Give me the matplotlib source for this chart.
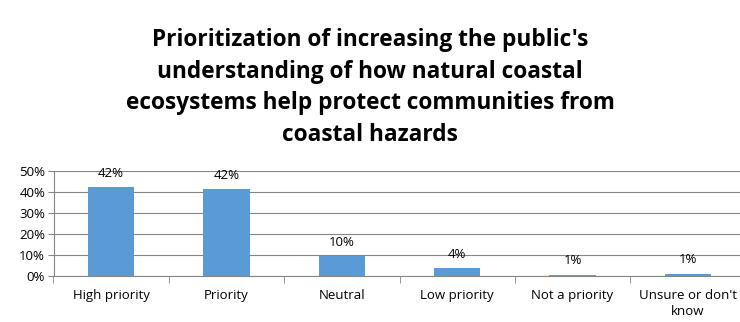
import matplotlib.pyplot as plt
import numpy as np

categories = ["High priority", "Priority", "Neutral", "Low priority", "Not a priority", "Unsure or don't\nknow"]
values = [42.2, 41.5, 9.7, 3.8, 0.8, 1.3]
labels = ["42%", "42%", "10%", "4%", "1%", "1%"]
title = ("Prioritization of increasing the public's\nunderstanding of how natural coastal\n"
         "ecosystems help protect communities from\ncoastal hazards")

plt.rcParams['font.family'] = ['Open Sans', 'DejaVu Sans']

fig = plt.figure(figsize=(7.4, 3.22), dpi=100)
ax = fig.add_axes([53.5 / 740, 1 - 276.3 / 322, 692 / 740, 105.3 / 322])

x = np.arange(len(categories))
ax.bar(x, values, width=0.4, color='#5B9BD5', zorder=3)
for xi, v, t in zip(x, values, labels):
    ax.text(xi, v + 3.5, t, ha='center', va='bottom', fontsize=9.5)

ax.set_xlim(-0.5, len(categories) - 0.5)
ax.set_ylim(0, 50)
ax.set_yticks([0, 10, 20, 30, 40, 50])
ax.set_yticklabels([f"{v}%" for v in range(0, 60, 10)], fontsize=9.5)
ax.set_xticks(x)
ax.set_xticklabels(categories, fontsize=9.5, linespacing=1.3)
ax.set_xticks(np.arange(len(categories) + 1) - 0.5, minor=True)
ax.tick_params(axis='x', which='major', length=0, pad=9)
ax.tick_params(axis='x', which='minor', length=5, color='#868686')
ax.tick_params(axis='y', length=4, color='#868686', pad=2)
ax.yaxis.grid(True, color='#868686', linewidth=0.8, zorder=0)
for s in ['top', 'right']:
    ax.spines[s].set_visible(False)
for s in ['left', 'bottom']:
    ax.spines[s].set_color('#868686')

fig.text(0.5, 0.912, title, ha='center', va='top', fontsize=16.3, fontweight='bold', linespacing=1.42)

plt.savefig('out.png', dpi=100)
